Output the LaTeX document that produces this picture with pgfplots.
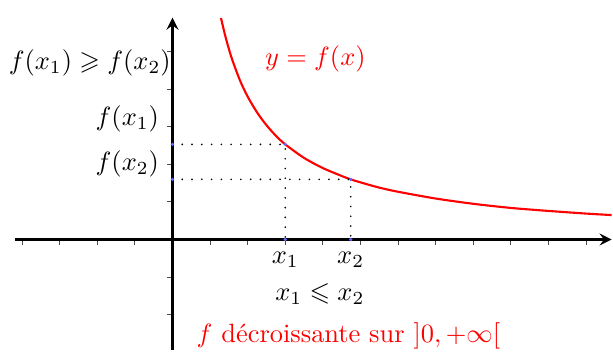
\documentclass[border=0pt]{standalone}
\usepackage{amssymb}
\usepackage{pgfplots}
\pgfplotsset{compat=1.18}
\begin{document}
\begin{tikzpicture}
\begin{axis}[
  x=0.5cm, y=0.5cm,
  axis lines=middle,
  axis line style={line width=1pt,-stealth},
  xmin=-4.2, xmax=11.68, ymin=-2.95, ymax=5.9,
  xtick={-4,-3,-2,-1,1,2,3,4,5,6,7,8,9,10,11},
  ytick={-2,-1,1,2,3,4,5},
  xticklabels={}, yticklabels={},
  tick align=outside,
  major tick length=2pt,
  tick style={black!70, line width=0.4pt},
  clip=false,
  every node/.append style={font=\fontsize{10.4}{12}\selectfont},
]
\path (axis cs:-4.45,6.37) (axis cs:11.68,-2.95);
\addplot[red, line width=0.8pt, smooth] coordinates {
(1.29,5.89) (1.4,5.43) (1.5,5.07) (1.6,4.75) (1.8,4.22) (2,3.8) (2.25,3.38)
(2.5,3.04) (2.75,2.76) (3,2.53) (3.5,2.17) (4,1.9) (4.5,1.69) (4.74,1.60)
(5,1.52) (5.5,1.38) (6,1.27) (7,1.09) (8,0.95) (9,0.84) (10,0.76) (11,0.69) (11.68,0.65)};
\addplot[black, line width=0.7pt, line cap=round, dash pattern=on 0pt off 3.7pt] coordinates {(0,2.53) (3,2.53) (3,0)};
\addplot[black, line width=0.7pt, line cap=round, dash pattern=on 0pt off 3.7pt] coordinates {(0,1.6) (4.74,1.6) (4.74,0)};
\addplot[only marks, mark=*, mark size=0.4pt, blue!60] coordinates {(0,2.53) (3,2.53) (3,0) (0,1.6) (4.74,1.6) (4.74,0)};
\node at (axis cs:-2.2,4.7) {$f(x_1)\geqslant f(x_2)$};
\node at (axis cs:-1.2,3.2) {$f(x_1)$};
\node at (axis cs:-1.2,2.0) {$f(x_2)$};
\node[red] at (axis cs:3.8,4.8) {$y=f(x)$};
\node[anchor=north] at (axis cs:3,-0.1) {$x_1$};
\node[anchor=north] at (axis cs:4.74,-0.1) {$x_2$};
\node at (axis cs:3.92,-1.45) {$x_1\leqslant x_2$};
\node[red] at (axis cs:4.68,-2.55) {$f$ décroissante sur $]0,+\infty[$};
\end{axis}
\end{tikzpicture}
\end{document}
